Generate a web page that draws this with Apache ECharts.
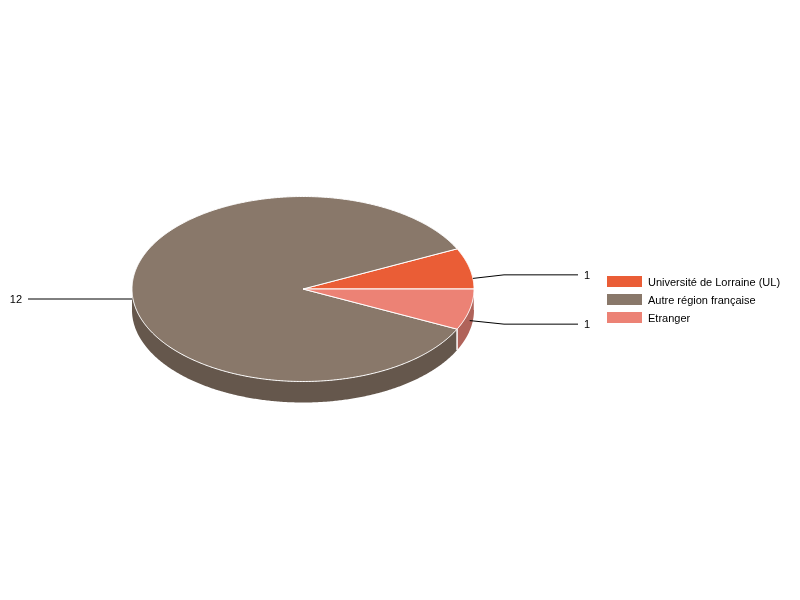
<!DOCTYPE html>
<html><head><meta charset="utf-8">
<style>html,body{margin:0;padding:0;background:#fff}#c{width:800px;height:600px}</style>
<script src="https://cdn.jsdelivr.net/npm/echarts@6/dist/echarts.min.js"></script>
</head><body><div id="c"></div>
<script>
const categories = ["Université de Lorraine (UL)", "Autre région française", "Etranger"];
const values = [1, 12, 1];

const topColors = ["#EA5D36", "#89786A", "#EC8275"];
const sideColors = ["#A64327", "#65574C", "#B0635A"];
const cx = 303, cy = 289, rx = 171, ry = 92.5, depth = 21;
const total = values.reduce((a, b) => a + b, 0);
const rad = d => d * Math.PI / 180;
const px = a => cx + rx * Math.cos(rad(a));
const py = a => cy - ry * Math.sin(rad(a));

function arc(a0, a1, dy) {
  const pts = [], n = Math.max(2, Math.ceil(Math.abs(a1 - a0) * 2));
  for (let i = 0; i <= n; i++) {
    const a = a0 + (a1 - a0) * i / n;
    pts.push([px(a), py(a) + dy]);
  }
  return pts;
}

function renderSlice(idx) {
  return function (params, api) {
    const before = api.value(0), val = api.value(1);
    const a0 = before / total * 360, a1 = (before + val) / total * 360;
    const mid = (a0 + a1) / 2;
    const children = [];

    // visible outer wall (lower half of the ellipse)
    const s0 = Math.max(a0, 180), s1 = Math.min(a1, 360);
    if (s1 > s0) {
      const top = arc(s0, s1, 0), bottom = arc(s0, s1, depth).reverse();
      children.push({
        type: 'polygon', z2: 1,
        shape: { points: top.concat(bottom) },
        style: { fill: sideColors[idx], stroke: null }
      });
      [s0, s1].forEach(a => {
        if (a === 180) return;
        children.push({
          type: 'line', z2: 2,
          shape: { x1: px(a), y1: py(a), x2: px(a), y2: py(a) + depth },
          style: { stroke: a === 360 ? 'rgba(255,255,255,0.5)' : '#fff', lineWidth: 1 }
        });
      });
    }

    // top face
    const face = [[cx, cy]].concat(arc(a0, a1, 0));
    children.push({
      type: 'polygon', z2: 5,
      shape: { points: face },
      style: { fill: topColors[idx], stroke: '#fff', lineWidth: 1, lineJoin: 'round' }
    });

    // leader line and value label
    const sinM = Math.sin(rad(mid)), cosM = Math.cos(rad(mid));
    const sign = cosM >= 0 ? 1 : -1;
    const sy = cy - ry * sinM + depth / 2 - 0.5 + (sinM < -1e-6 ? 1 : 0);
    let sx = px(mid);
    if (sinM > 1e-6) {
      const t = (cy - sy) / ry;
      sx = cx + sign * rx * Math.sqrt(1 - t * t);
    }
    const ey = sy - sinM * 16;
    const pts = [[sx, sy], [cx + sign * 201, ey], [cx + sign * 275, ey]];
    children.push({
      type: 'polyline', z2: 6,
      shape: { points: pts },
      style: { stroke: '#000', lineWidth: 1, fill: null }
    });
    children.push({
      type: 'text', z2: 7,
      x: cx + sign * 281, y: ey + 1,
      style: {
        text: String(val), fill: '#000',
        font: '11px "Liberation Sans", Arial, sans-serif',
        align: sign > 0 ? 'left' : 'right', verticalAlign: 'middle'
      }
    });
    return { type: 'group', children };
  };
}

let running = 0;
const series = categories.map((name, i) => {
  const row = [running, values[i]];
  running += values[i];
  return {
    type: 'custom', name, coordinateSystem: 'none', silent: true,
    itemStyle: { color: topColors[i] },
    renderItem: renderSlice(i),
    data: [row]
  };
});

const chart = echarts.init(document.getElementById('c'), null, { renderer: 'canvas' });
chart.setOption({
  animation: false,
  backgroundColor: '#fff',
  legend: {
    data: categories.map(name => ({ name, icon: 'rect' })),
    orient: 'vertical', left: 607, top: 276, padding: 0,
    itemWidth: 35, itemHeight: 11, itemGap: 5.5, selectedMode: false,
    formatter: '{t|{name}}',
    textStyle: {
      fontFamily: '"Liberation Sans", Arial, sans-serif', fontSize: 11, color: '#000',
      rich: { t: { fontFamily: '"Liberation Sans", Arial, sans-serif', fontSize: 11, color: '#000', padding: [3, 0, 0, 1] } }
    }
  },
  series
});
</script></body></html>
